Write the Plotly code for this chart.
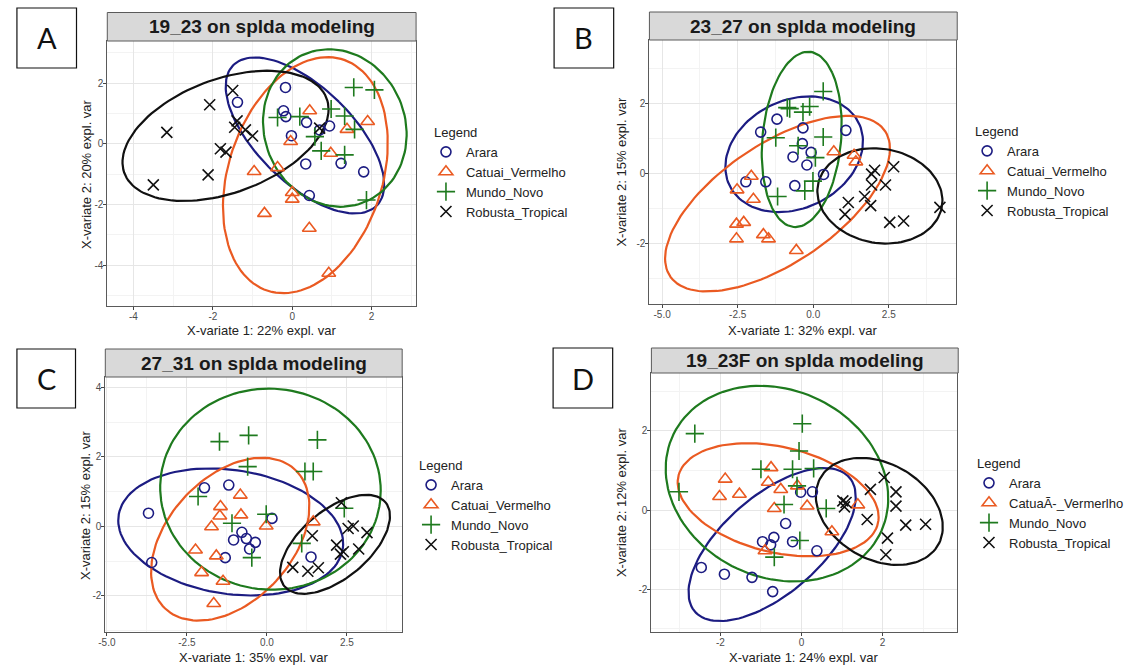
import numpy as np
import plotly.graph_objects as go

# ---------------- data ----------------
groups = ["Arara", "Catuai_Vermelho", "Mundo_Novo", "Robusta_Tropical"]
groups_d = ["Arara", "CatuaÃ-_Vermerlho", "Mundo_Novo", "Robusta_Tropical"]

panel_titles = ["19_23 on splda modeling", "23_27 on splda modeling",
                "27_31 on splda modeling", "19_23F on splda modeling"]
panel_letters = ["A", "B", "C", "D"]
x_titles = ["X-variate 1: 22% expl. var", "X-variate 1: 32% expl. var",
            "X-variate 1: 35% expl. var", "X-variate 1: 24% expl. var"]
y_titles = ["X-variate 2: 20% expl. var", "X-variate 2: 15% expl. var",
            "X-variate 2: 15% expl. var", "X-variate 2: 12% expl. var"]

# Panel A
a_arara_x = [-0.17, -1.38, -0.22, -0.16, 0.36, -0.02, 0.69, 0.94, 0.34, 1.23, 1.80, 0.43]
a_arara_y = [1.86, 1.37, 1.09, 0.90, 0.71, 0.27, 0.46, 0.59, -0.66, -0.64, -0.92, -1.70]
a_catuai_x = [0.44, 1.90, 1.38, -0.04, 0.97, -0.96, -0.37, 0.00, 0.00, -0.70, 0.43, 0.92]
a_catuai_y = [1.09, 0.74, 0.48, 0.08, -0.31, -0.91, -0.78, -1.60, -1.82, -2.29, -2.78, -4.26]
a_mundo_x = [1.55, 2.07, 0.98, -0.37, 0.19, 1.32, 1.57, 0.57, 0.73, 1.32, 1.87]
a_mundo_y = [1.86, 1.78, 1.15, 0.87, 0.90, 0.92, 0.48, 0.24, -0.23, -0.36, -1.85]
a_robusta_x = [-1.50, -2.08, -3.16, -1.39, -1.45, -1.18, -1.00, -1.81, -1.67, -2.12, -3.50, 0.69]
a_robusta_y = [1.76, 1.29, 0.38, 0.76, 0.55, 0.46, 0.26, -0.16, -0.27, -1.02, -1.35, 0.52]

# Panel B
b_arara_x = [-1.20, -1.74, -0.34, 1.08, -0.36, -0.07, -0.67, -0.21, 0.34, -2.23, -1.57, -0.61]
b_arara_y = [1.55, 1.18, 1.30, 1.23, 0.85, 0.60, 0.47, 0.24, -0.03, -0.24, -0.24, -0.35]
b_catuai_x = [0.68, 1.35, 1.41, -2.05, -2.52, -1.98, -2.54, -2.30, -2.54, -1.65, -1.48, -0.56]
b_catuai_y = [0.62, 0.52, 0.33, -0.08, -0.47, -0.74, -1.45, -1.40, -1.87, -1.75, -1.87, -2.20]
b_mundo_x = [0.33, -0.86, -0.78, -0.12, -0.34, -1.24, 0.33, -0.50, 0.07, -0.01, -0.28, -1.18]
b_mundo_y = [2.34, 1.88, 1.85, 1.91, 1.75, 1.02, 1.04, 0.79, 0.45, -0.22, -0.50, -0.66]
b_robusta_x = [2.03, 2.66, 1.93, 1.93, 2.39, 1.70, 1.16, 1.90, 1.05, 2.53, 2.99, 4.19]
b_robusta_y = [0.09, 0.19, -0.02, -0.33, -0.33, -0.66, -0.83, -0.92, -1.17, -1.40, -1.36, -0.97]

# Panel C
c_arara_x = [-3.70, -3.60, -1.95, -1.19, 0.16, -0.78, -0.64, -1.04, -0.36, -0.54, -1.30, 1.38]
c_arara_y = [0.38, -1.04, 1.11, 1.19, 0.23, -0.17, -0.35, -0.39, -0.46, -0.65, -0.90, -0.88]
c_catuai_x = [-0.83, -1.45, -1.47, -0.81, -1.73, -0.02, 1.45, -2.23, -1.58, -2.04, -1.37, -1.66]
c_catuai_y = [0.90, 0.57, 0.30, 0.33, -0.01, 0.01, 0.13, -0.68, -0.85, -1.33, -1.58, -2.22]
c_mundo_x = [-1.48, -0.57, 1.58, -0.60, 1.19, 1.45, -2.15, -1.09, -0.02, 2.42, 1.09, -0.47]
c_mundo_y = [2.44, 2.62, 2.49, 1.72, 1.58, 1.58, 0.86, 0.09, 0.35, 0.52, -0.49, -0.90]
c_robusta_x = [2.33, 1.42, 2.54, 2.70, 3.13, 2.18, 2.39, 0.81, 1.28, 1.61, 2.30, 2.87]
c_robusta_y = [0.68, -0.27, -0.06, 0.01, -0.18, -0.54, -0.73, -1.18, -1.29, -1.19, -0.80, -0.65]

# Panel D
d_arara_x = [-0.02, 0.27, -0.39, -0.68, -0.96, -0.76, -0.22, 0.38, -2.47, -1.90, -1.22, -0.71]
d_arara_y = [0.45, 0.46, -0.34, -0.69, -0.80, -0.88, -0.80, -1.03, -1.45, -1.62, -1.70, -2.06]
d_catuai_x = [-0.75, -1.88, -0.82, -2.02, -1.53, -0.51, -0.10, -0.67, 0.14, 1.39, 0.75, -0.90]
d_catuai_y = [1.07, 0.78, 0.70, 0.34, 0.40, 0.52, 0.61, 0.04, 0.10, 0.13, -0.55, -1.03]
d_mundo_x = [-2.63, 0.02, -0.06, -1.00, -0.22, 0.30, -3.02, -0.11, -0.43, 0.61, -0.04, -0.67]
d_mundo_y = [1.93, 2.18, 1.49, 1.03, 1.03, 1.05, 0.46, 0.61, 0.14, 0.04, -0.77, -1.19]
d_robusta_x = [2.04, 1.70, 2.33, 2.33, 1.02, 1.10, 1.06, 1.62, 2.57, 3.06, 2.12, 2.08]
d_robusta_y = [0.82, 0.52, 0.46, 0.10, 0.23, 0.19, 0.08, -0.24, -0.38, -0.36, -0.71, -1.13]

# tick values / labels
a_xticks = [-4, -2, 0, 2]
a_yticks = [-4, -2, 0, 2]
b_xticks = [-5.0, -2.5, 0.0, 2.5]
b_yticks = [-2, 0, 2]
c_xticks = [-5.0, -2.5, 0.0, 2.5]
c_yticks = [-2, 0, 2, 4]
d_xticks = [-2, 0, 2]
d_yticks = [-2, 0, 2]

# ---------------- styling ----------------
W, H = 1129, 668
FONT = "Liberation Sans, Arial, sans-serif"
colors = ["#1c1c82", "#ea5a22", "#1e7a1e", "#111111"]
symbols = ["circle-open", "triangle-up-open", "cross-thin-open", "x-thin-open"]
msizes = [10, 12, 13, 11]

panels = [
    dict(data=[(a_arara_x, a_arara_y), (a_catuai_x, a_catuai_y), (a_mundo_x, a_mundo_y), (a_robusta_x, a_robusta_y)],
         xt=a_xticks, yt=a_yticks, xfmt="{:g}", box=(101, 41, 412, 306), strip=(101, 12.5, 412, 41),
         xr=[-4.66, 3.12], yr=[-5.34, 3.39], xminor=1, yminor=1,
         lab=(10, 8, 70, 68), ytitle_x=80, xtitle_y=330, legend=(428, 120), names=groups),
    dict(data=[(b_arara_x, b_arara_y), (b_catuai_x, b_catuai_y), (b_mundo_x, b_mundo_y), (b_robusta_x, b_robusta_y)],
         xt=b_xticks, yt=b_yticks, xfmt="{:.1f}", box=(647, 40, 956, 304), strip=(647, 12, 957, 40),
         xr=[-5.42, 4.73], yr=[-3.73, 3.81], xminor=1.25, yminor=1,
         lab=(551, 8, 611, 68), ytitle_x=619, xtitle_y=330, legend=(973, 119), names=groups),
    dict(data=[(c_arara_x, c_arara_y), (c_catuai_x, c_catuai_y), (c_mundo_x, c_mundo_y), (c_robusta_x, c_robusta_y)],
         xt=c_xticks, yt=c_yticks, xfmt="{:.1f}", box=(99, 377, 398, 632), strip=(99, 349, 398, 377),
         xr=[-5.05, 4.23], yr=[-3.04, 4.30], xminor=1.25, yminor=1,
         lab=(10, 349, 69, 408), ytitle_x=79, xtitle_y=657, legend=(413, 453), names=groups),
    dict(data=[(d_arara_x, d_arara_y), (d_catuai_x, d_catuai_y), (d_mundo_x, d_mundo_y), (d_robusta_x, d_robusta_y)],
         xt=d_xticks, yt=d_yticks, xfmt="{:g}", box=(649, 373, 957, 632), strip=(649, 348, 958, 373),
         xr=[-3.70, 3.84], yr=[-3.08, 3.46], xminor=1, yminor=1,
         lab=(550, 348, 610, 408), ytitle_x=619, xtitle_y=657, legend=(975, 451), names=groups_d),
]

T95 = np.sqrt(-2.0 * np.log(1 - 0.95))  # sqrt(qchisq(0.95, 2))


def conf_ellipse(xs, ys, n=120):
    x = np.asarray(xs, float)
    y = np.asarray(ys, float)
    sx, sy = x.std(ddof=1), y.std(ddof=1)
    r = np.corrcoef(x, y)[0, 1]
    d = np.arccos(r)
    a = np.linspace(0, 2 * np.pi, n)
    return x.mean() + T95 * sx * np.cos(a + d / 2), y.mean() + T95 * sy * np.cos(a - d / 2)


def px(xp):
    return xp / W


def py(yp):
    return 1 - yp / H


fig = go.Figure()
shapes = []
annotations = []
layout = dict(width=W, height=H, margin=dict(l=0, r=0, t=0, b=0),
              paper_bgcolor="white", plot_bgcolor="white",
              font=dict(family=FONT, color="#222"))

for i, p in enumerate(panels):
    k = i + 1
    xa = "x" if k == 1 else f"x{k}"
    ya = "y" if k == 1 else f"y{k}"
    lg = "legend" if k == 1 else f"legend{k}"
    for g, ((xs, ys), name) in enumerate(zip(p["data"], p["names"])):
        ex, ey = conf_ellipse(xs, ys)
        fig.add_trace(go.Scatter(x=ex, y=ey, mode="lines", xaxis=xa, yaxis=ya,
                                 line=dict(color=colors[g], width=2.2),
                                 showlegend=False, hoverinfo="skip"))
    for g, ((xs, ys), name) in enumerate(zip(p["data"], p["names"])):
        fig.add_trace(go.Scatter(x=xs, y=ys, mode="markers", name=name, xaxis=xa, yaxis=ya,
                                 legend=lg,
                                 marker=dict(symbol=symbols[g], size=msizes[g], color=colors[g],
                                             line=dict(color=colors[g], width=1.6))))
    x0, y0, x1, y1 = p["box"]
    axcommon = dict(showgrid=True, gridcolor="#e6e6e6", gridwidth=1, zeroline=False,
                    showline=True, mirror=True, linecolor="#5a5a5a", linewidth=1,
                    ticks="outside", ticklen=3, tickcolor="#444", ticklabelstandoff=-2,
                    tickfont=dict(size=10, color="#4d4d4d", family=FONT))
    layout["xaxis" if k == 1 else f"xaxis{k}"] = dict(
        axcommon, domain=[px(x0), px(x1)], anchor=ya, range=p["xr"],
        tickmode="array", tickvals=p["xt"], ticktext=[p["xfmt"].format(v) for v in p["xt"]],
        minor=dict(tickmode="linear", tick0=0, dtick=p["xminor"], showgrid=True,
                   gridcolor="#f3f3f3", gridwidth=1, ticks=""))
    layout["yaxis" if k == 1 else f"yaxis{k}"] = dict(
        axcommon, domain=[py(y1), py(y0)], anchor=xa, range=p["yr"],
        tickmode="array", tickvals=p["yt"], ticktext=["{:g}".format(v) for v in p["yt"]],
        minor=dict(tickmode="linear", tick0=0, dtick=p["yminor"], showgrid=True,
                   gridcolor="#f3f3f3", gridwidth=1, ticks=""))
    # strip
    sx0, sy0, sx1, sy1 = p["strip"]
    shapes.append(dict(type="rect", xref="paper", yref="paper", x0=px(sx0), x1=px(sx1),
                       y0=py(sy1), y1=py(sy0), fillcolor="#d9d9d9",
                       line=dict(color="#5a5a5a", width=1), layer="above"))
    annotations.append(dict(xref="paper", yref="paper", x=px((sx0 + sx1) / 2), y=py((sy0 + sy1) / 2),
                            text=f"<b>{panel_titles[i]}</b>", showarrow=False,
                            font=dict(size=19, color="#1a1a1a", family=FONT),
                            xanchor="center", yanchor="middle"))
    # letter box
    lx0, ly0, lx1, ly1 = p["lab"]
    shapes.append(dict(type="rect", xref="paper", yref="paper", x0=px(lx0), x1=px(lx1),
                       y0=py(ly1), y1=py(ly0), fillcolor="white",
                       line=dict(color="#111", width=1.2)))
    annotations.append(dict(xref="paper", yref="paper", x=px((lx0 + lx1) / 2), y=py((ly0 + ly1) / 2),
                            text=panel_letters[i], showarrow=False,
                            font=dict(size=29, color="#111", family="Lato, Liberation Sans, sans-serif"),
                            xanchor="center", yanchor="middle"))
    # axis titles
    annotations.append(dict(xref="paper", yref="paper", x=px((x0 + x1) / 2), y=py(p["xtitle_y"]),
                            text=x_titles[i], showarrow=False, font=dict(size=13, color="#222"),
                            xanchor="center", yanchor="middle"))
    annotations.append(dict(xref="paper", yref="paper", x=px(p["ytitle_x"]), y=py((y0 + y1) / 2),
                            text=y_titles[i], showarrow=False, textangle=-90,
                            font=dict(size=13, color="#222"), xanchor="center", yanchor="middle"))
    # legend
    lgx, lgy = p["legend"]
    layout[lg] = dict(x=px(lgx), y=py(lgy), xanchor="left", yanchor="top",
                      title=dict(text="Legend", font=dict(size=13, color="#222")),
                      font=dict(size=13, color="#222", family=FONT), indentation=-6,
                      bgcolor="rgba(0,0,0,0)", borderwidth=0, tracegroupgap=0)

layout["shapes"] = shapes
layout["annotations"] = annotations
fig.update_layout(**layout)
fig.write_html("out.html")
